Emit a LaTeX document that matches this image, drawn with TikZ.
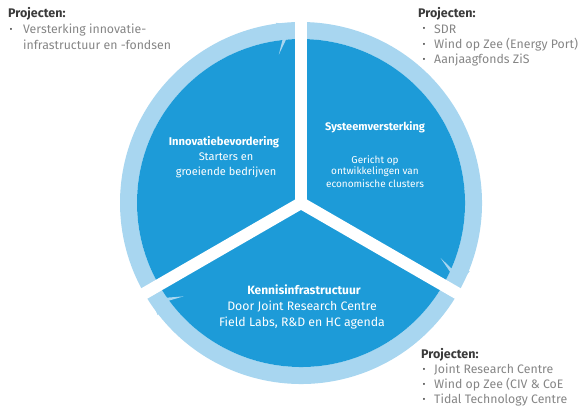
\documentclass[tikz,border=0pt]{standalone}
\usepackage{fontspec}
\setmainfont{Fira Sans}
\usetikzlibrary{calc}
\definecolor{dblue}{HTML}{1D9BD8}
\definecolor{lblue}{HTML}{A8D6F0}
\definecolor{headgray}{HTML}{3A3A3A}
\definecolor{itemgray}{HTML}{858585}
\definecolor{bulgray}{HTML}{555555}
\tikzset{
  ring/.style={fill=lblue},
  disk/.style={fill=dblue},
  gapline/.style={draw=white, line width=12pt},
  head/.style={anchor=west, inner sep=0pt, text=headgray, font=\fontsize{12.5}{14}\selectfont\bfseries},
  item/.style={anchor=west, inner sep=0pt, text=itemgray, font=\fontsize{12.3}{14}\selectfont},
  bul/.style={anchor=center, inner sep=0pt, text=bulgray, font=\fontsize{9}{10}\selectfont},
  intitle/.style={anchor=center, inner sep=0pt, text=white, font=\fontsize{#1}{13}\selectfont\bfseries},
  intext/.style={anchor=center, inner sep=0pt, text=white, font=\fontsize{#1}{13}\selectfont},
}
\begin{document}
\begin{tikzpicture}[x=1pt,y=1pt]
\useasboundingbox (0,0) rectangle (584,410);
\coordinate (C) at (301,207);
\def\Ro{181}
\def\Ri{164}
% sectors: s = clockwise end, e = other end
\foreach \s/\e in {90/210, -30/90, 210/330}{
  \fill[ring] ($(C)+(\s:\Ro)$) arc[start angle=\s, end angle=\e, radius=\Ro]
     -- ($(C)+(\e:\Ri)$) arc[start angle=\e, end angle=\s, radius=\Ri] -- cycle;
  \fill[disk] (C) -- ($(C)+(\s:\Ri)$) arc[start angle=\s, end angle=\e, radius=\Ri] -- cycle;
  \fill[ring] ($(C)+(\s+2.6:178)$) -- ($(C)+(\s+8:182)$) -- ($(C)+(\s+6.5:164)$) -- ($(C)+(\s+8.5:150)$) -- cycle;
}
\foreach \a in {90,210,330}{
  \path[gapline] (C) -- ($(C)+(\a:195)$);
}
% sector texts
\node[intitle=11.2] (t1) at (224,268) {Innovatiebevordering};
\node[intext=11] (d1a) at (226,253) {Starters en};
\node[intext=11] (d1b) at (226,238) {groeiende bedrijven};
\node[intitle=11] (t2) at (375,283) {Systeemversterking};
\node[intext=10] (d2a) at (375,249) {Gericht op};
\node[intext=10] (d2b) at (375,238) {ontwikkelingen van};
\node[intext=10] (d2c) at (375,226) {economische clusters};
\node[intitle=12] (t3) at (304,120) {Kennisinfrastructuur};
\node[intext=12.3] (d3a) at (302,103) {Door Joint Research Centre};
\node[intext=12.3] (d3b) at (302,87) {Field Labs, R\&D en HC agenda};
% project lists
\node[head] (p1) at (8,396) {Projecten:};
\node[bul] (b11) at (11,380) {•};
\node[item] (i11) at (23,380) {Versterking innovatie-};
\node[item] (i12) at (23,365) {infrastructuur en -fondsen};
\node[head] (p2) at (418,396) {Projecten:};
\node[bul] (b21) at (424,381) {•};
\node[item] (i21) at (434,381) {SDR};
\node[bul] (b22) at (424,365) {•};
\node[item] (i22) at (434,365) {Wind op Zee (Energy Port)};
\node[bul] (b23) at (424,350) {•};
\node[item] (i23) at (434,350) {Aanjaagfonds ZiS};
\node[head] (p3) at (421,55) {Projecten:};
\node[bul] (b31) at (424,40) {•};
\node[item] (i31) at (434,40) {Joint Research Centre};
\node[bul] (b32) at (424,25) {•};
\node[item] (i32) at (434,25) {Wind op Zee (CIV \& CoE};
\node[bul] (b33) at (424,10) {•};
\node[item] (i33) at (434,10) {Tidal Technology Centre};
\end{tikzpicture}
\end{document}
